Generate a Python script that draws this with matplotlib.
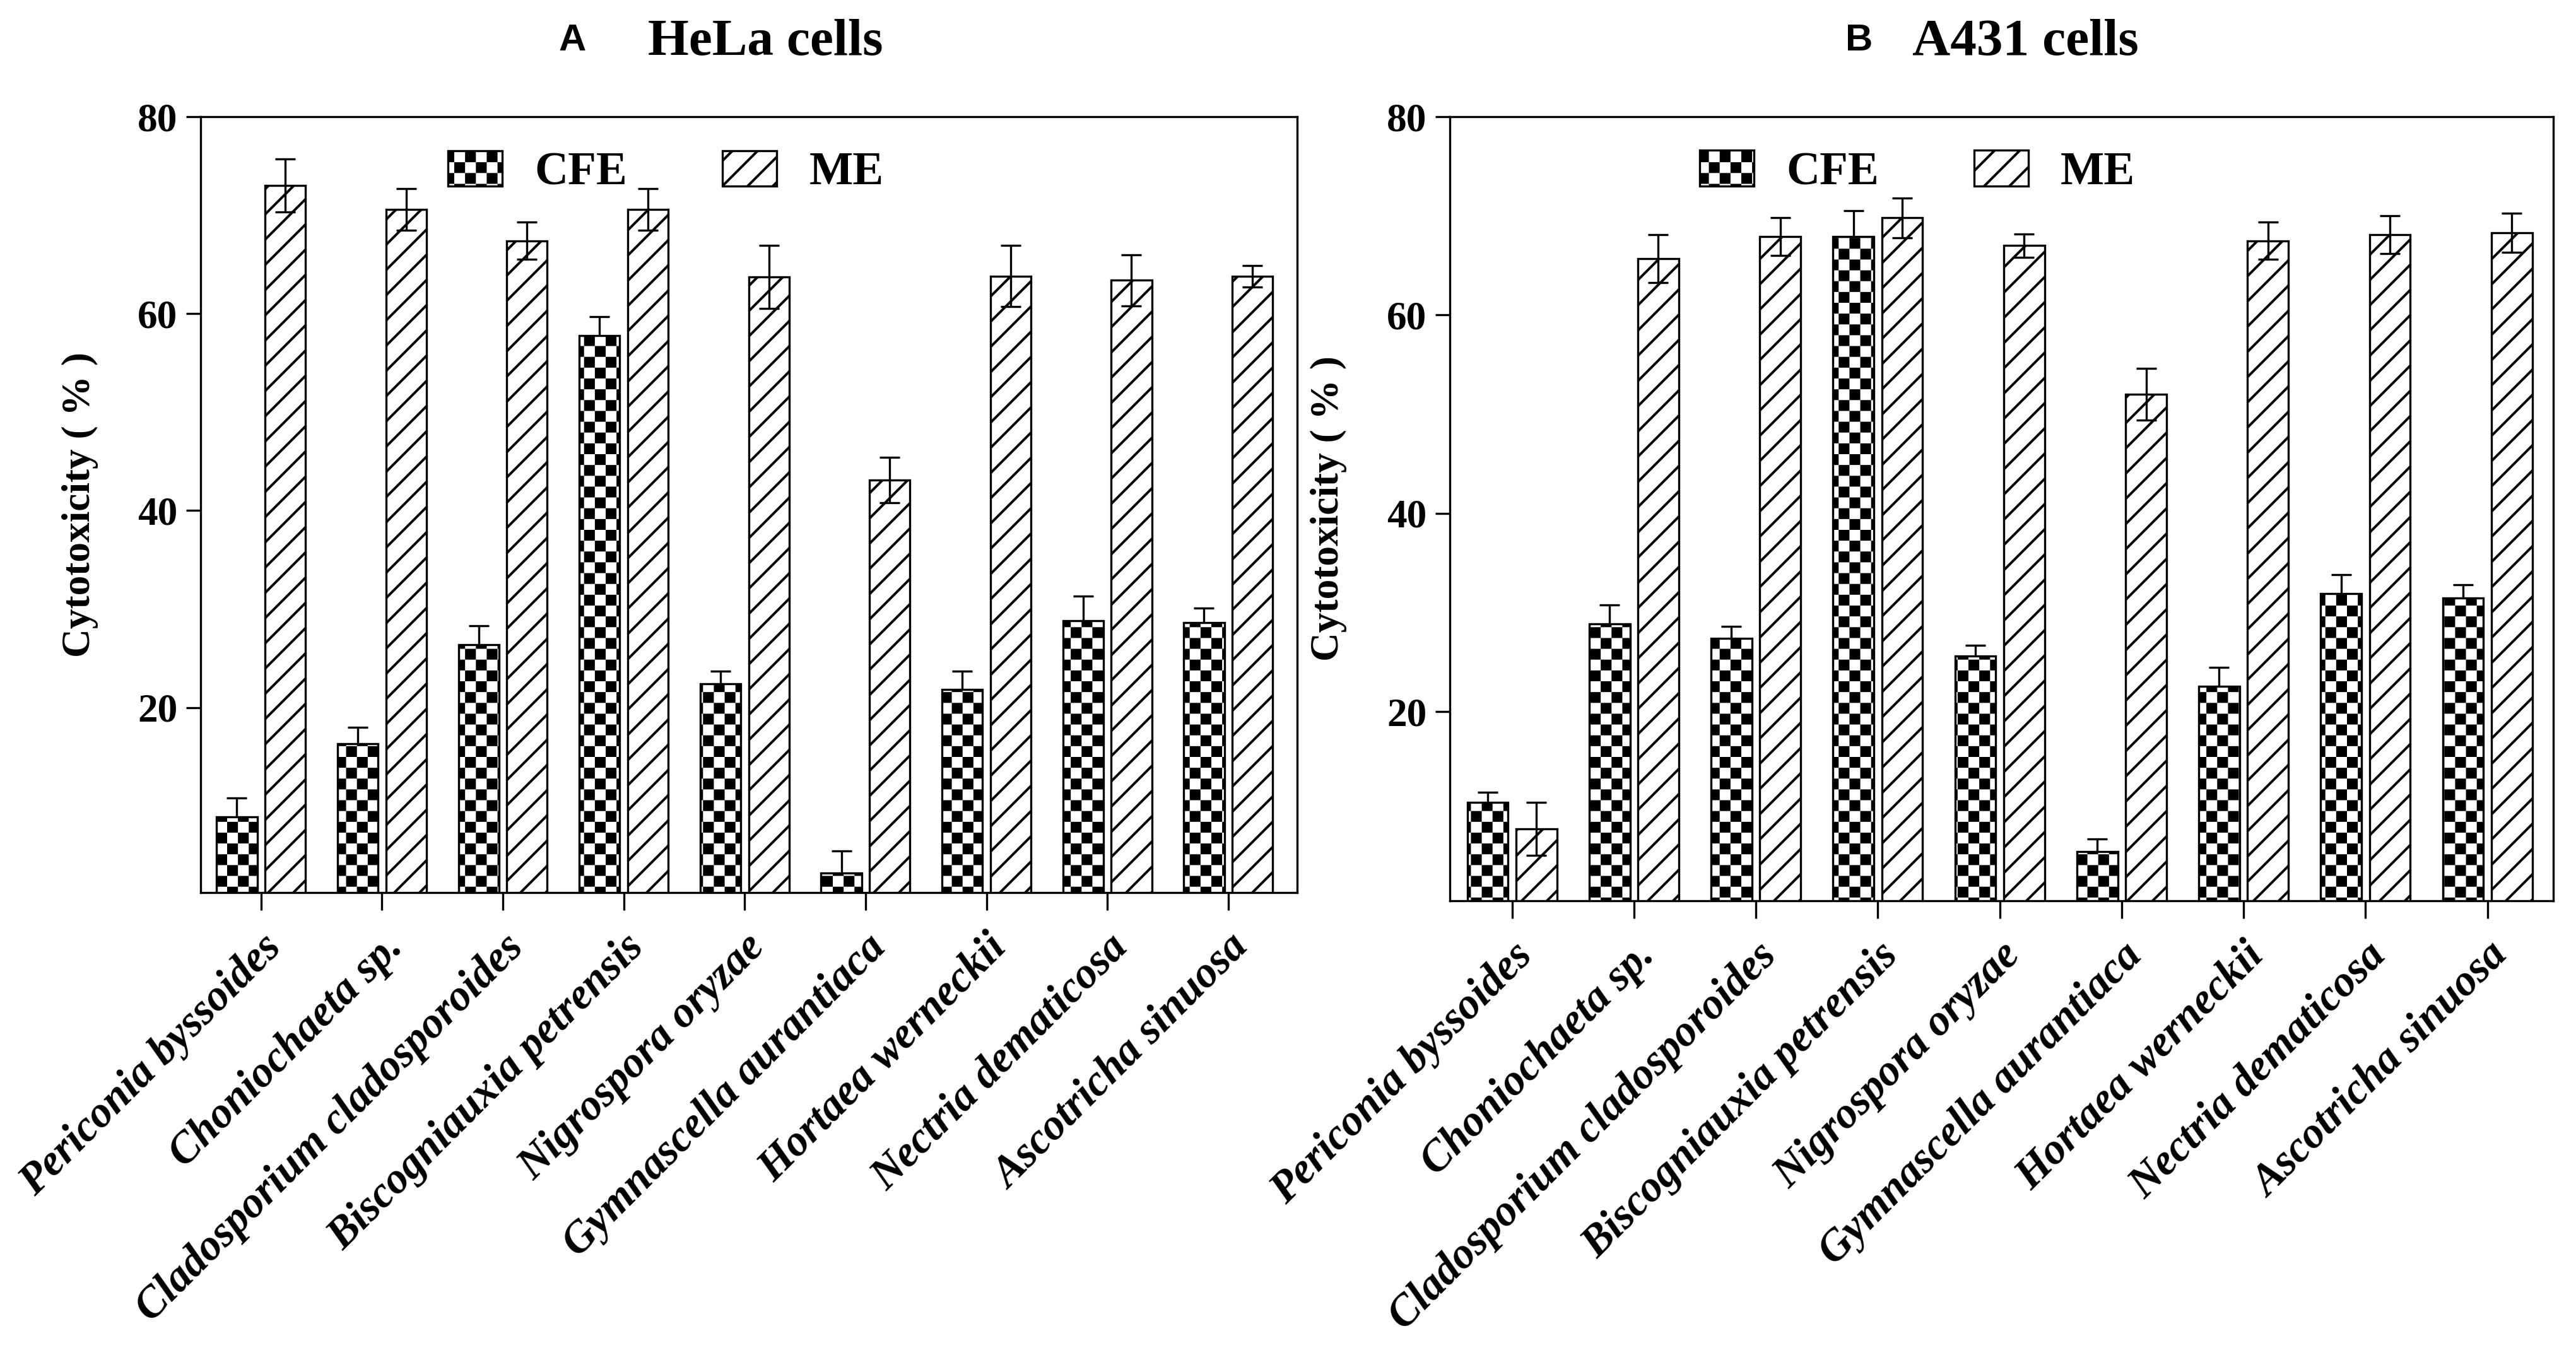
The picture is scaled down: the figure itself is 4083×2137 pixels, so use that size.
# Cytotoxicity of fungal extracts (CFE vs ME) on HeLa and A431 cells

import warnings
import numpy as np
import matplotlib
matplotlib.use("Agg")
import matplotlib.pyplot as plt
import matplotlib.hatch as mhatch
from matplotlib.path import Path
from matplotlib.transforms import ScaledTranslation

warnings.filterwarnings("ignore")

species = ["Periconia byssoides", "Choniochaeta sp.", "Cladosporium cladosporoides",
           "Biscogniauxia petrensis", "Nigrospora oryzae", "Gymnascella aurantiaca",
           "Hortaea werneckii", "Nectria dematicosa", "Ascotricha sinuosa"]

hela_cfe = [8.9, 16.3, 26.4, 57.8, 22.4, 3.2, 21.8, 28.8, 28.6]
hela_cfe_err = [1.9, 1.7, 1.9, 1.9, 1.3, 2.2, 1.9, 2.5, 1.5]
hela_me = [73.0, 70.6, 67.4, 70.6, 63.7, 43.1, 63.8, 63.4, 63.8]
hela_me_err = [2.7, 2.1, 1.9, 2.1, 3.2, 2.3, 3.1, 2.6, 1.1]

a431_cfe = [10.9, 28.9, 27.4, 67.9, 25.6, 5.9, 22.6, 31.9, 31.5]
a431_cfe_err = [1.0, 1.9, 1.2, 2.6, 1.1, 1.3, 1.9, 1.9, 1.3]
a431_me = [8.2, 65.7, 67.9, 69.8, 67.0, 52.0, 67.5, 68.1, 68.3]
a431_me_err = [2.7, 2.4, 1.9, 2.0, 1.2, 2.6, 1.9, 1.9, 2.0]

DPI = 240
HATCH_LW = 1.2

plt.rcParams["font.family"] = ["Liberation Serif", "DejaVu Serif"]
plt.rcParams["font.weight"] = "bold"
plt.rcParams["hatch.linewidth"] = HATCH_LW


# checkerboard fill for the CFE bars (hatch letter "c")
class CheckerHatch(mhatch.HatchPatternBase):
    def __init__(self, hatch, density):
        self.n = 14 if "c" in hatch else 0
        self.num_vertices = (self.n * self.n // 2) * 5

    def set_vertices_and_codes(self, vertices, codes):
        step = 1.0 / self.n
        s = HATCH_LW / 144.0  # shrink by half the stroke width
        k = 0
        for i in range(self.n):
            for j in range(self.n):
                if (i + j) % 2:
                    continue
                x0, y0 = i * step + s, j * step + s
                x1, y1 = (i + 1) * step - s, (j + 1) * step - s
                vertices[k:k + 5] = [(x0, y0), (x1, y0), (x1, y1), (x0, y1), (x0, y0)]
                codes[k:k + 5] = [Path.MOVETO, Path.LINETO, Path.LINETO,
                                  Path.LINETO, Path.CLOSEPOLY]
                k += 5


mhatch._hatch_types.append(CheckerHatch)

fig = plt.figure(figsize=(4083 / DPI, 2137 / DPI), dpi=DPI)
ax_a = fig.add_axes([0.07788, 0.33786, 0.42567, 0.57557])
ax_b = fig.add_axes([0.56282, 0.33177, 0.42836, 0.58166])


def draw_panel(ax, cfe, cfe_err, me, me_err, ylo, xlim, leg_x, leg_y):
    x = np.arange(len(species))
    off, w = 0.2, 0.335
    err_kw = dict(fmt="none", ecolor="black", elinewidth=1.0, capsize=4.8, capthick=1.0)
    ax.errorbar(x - off, cfe, yerr=cfe_err, zorder=1, **err_kw)
    ax.bar(x - off, cfe, w, color="white", edgecolor="black", hatch="c",
           linewidth=1.0, label="CFE", zorder=2)
    ax.bar(x + off, me, w, color="white", edgecolor="black", hatch="//",
           linewidth=1.0, label="ME", zorder=2)
    ax.errorbar(x + off, me, yerr=me_err, zorder=3, **err_kw)

    ax.set_xlim(*xlim)
    ax.set_ylim(ylo, 80)
    ax.set_yticks([20, 40, 60, 80])
    ax.set_xticks(x)
    ax.set_xticklabels(species, rotation=45, ha="right", va="top",
                       rotation_mode="anchor", fontstyle="italic", fontsize=20.6)
    shift = ScaledTranslation(12 / DPI, 0, fig.dpi_scale_trans)
    for lbl in ax.get_xticklabels():
        lbl.set_transform(lbl.get_transform() + shift)
    ax.tick_params(axis="x", length=8.4, width=1.0, direction="out", pad=8)
    ax.tick_params(axis="y", length=7, width=1.0, direction="out", pad=4, labelsize=19)
    for sp in ax.spines.values():
        sp.set_linewidth(1.0)

    ax.set_ylabel("Cytotoxicity ( % )", fontsize=19, fontweight="bold")
    ax.yaxis.set_label_coords(-0.093, 0.5)

    ax.legend(loc="center left", bbox_to_anchor=(leg_x, leg_y), ncol=2, frameon=False,
              fontsize=22, handlelength=1.17, handleheight=0.8, handletextpad=0.7,
              columnspacing=2.06, borderpad=0, borderaxespad=0)


draw_panel(ax_a, hela_cfe, hela_cfe_err, hela_me, hela_me_err,
           1.2, (-0.5, 8.57), 0.2256, 0.928)
draw_panel(ax_b, a431_cfe, a431_cfe_err, a431_me, a431_me_err,
           0.95, (-0.51, 8.54), 0.2264, 0.929)

# panel titles
fig.text(0.2221, 0.9696, "A", family="Liberation Sans", fontsize=18,
         fontweight="bold", ha="center", va="center")
fig.text(0.2971, 0.9686, "HeLa cells", fontsize=25, fontweight="bold",
         ha="center", va="center")
fig.text(0.7218, 0.9696, "B", family="Liberation Sans", fontsize=18,
         fontweight="bold", ha="center", va="center")
fig.text(0.7864, 0.9686, "A431 cells", fontsize=25, fontweight="bold",
         ha="center", va="center")

fig.savefig("out.png", dpi=DPI, facecolor="white")
plt.close(fig)
